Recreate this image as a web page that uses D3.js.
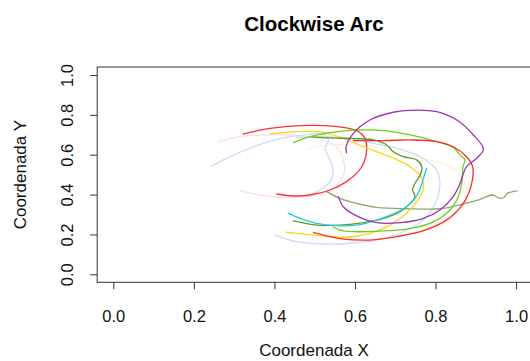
<!DOCTYPE html>
<html>
<head>
<meta charset="utf-8">
<script src="https://cdn.jsdelivr.net/npm/d3@7"></script>
<style>
  body { margin: 0; background: #fff; }
  svg { display: block; font-family: "Liberation Sans", Arial, sans-serif; }
</style>
</head>
<body>
<div id="chart"></div>
<script>
// traced strokes, [x, y] in data units
var redA = [[0.323,0.704],[0.389,0.732],[0.464,0.746],[0.555,0.741],[0.604,0.721],[0.625,0.682],[0.629,0.624],[0.623,0.565],[0.608,0.515],[0.579,0.465],[0.538,0.423],[0.488,0.398],[0.447,0.393],[0.406,0.403]];
var redB = [[0.596,0.671],[0.671,0.671],[0.737,0.674],[0.803,0.666],[0.844,0.640],[0.877,0.590],[0.892,0.540],[0.890,0.457],[0.869,0.356],[0.828,0.273],[0.770,0.219],[0.704,0.189],[0.637,0.172],[0.571,0.177],[0.522,0.197],[0.497,0.209]];
var yellow = [[0.389,0.704],[0.455,0.716],[0.522,0.712],[0.571,0.682],[0.621,0.640],[0.687,0.590],[0.737,0.540],[0.766,0.482],[0.770,0.431],[0.757,0.373],[0.728,0.306],[0.687,0.247],[0.637,0.206],[0.579,0.186],[0.522,0.192],[0.472,0.202],[0.430,0.211]];
var blueA = [[0.244,0.543],[0.290,0.590],[0.348,0.640],[0.406,0.677],[0.455,0.694],[0.522,0.704],[0.534,0.674],[0.526,0.632],[0.538,0.574],[0.546,0.523],[0.538,0.465],[0.513,0.423],[0.480,0.390]];
var blueB = [[0.455,0.687],[0.522,0.691],[0.588,0.682],[0.646,0.657],[0.704,0.632],[0.762,0.590],[0.803,0.523],[0.811,0.457],[0.803,0.373],[0.770,0.273],[0.712,0.206],[0.654,0.172],[0.588,0.156],[0.522,0.152],[0.455,0.164],[0.401,0.197]];
var pink = [[0.261,0.666],[0.315,0.691],[0.373,0.699],[0.439,0.699],[0.505,0.682],[0.555,0.640],[0.571,0.574],[0.573,0.507],[0.563,0.465],[0.538,0.423],[0.505,0.398],[0.464,0.386],[0.422,0.385],[0.364,0.398],[0.315,0.420]];
var peach = [[0.480,0.627],[0.538,0.649],[0.604,0.649],[0.687,0.624],[0.770,0.582],[0.836,0.540],[0.869,0.473],[0.876,0.390],[0.861,0.323],[0.828,0.264],[0.770,0.222],[0.704,0.197]];
var green = [[0.447,0.661],[0.488,0.691],[0.538,0.711],[0.604,0.724],[0.671,0.721],[0.737,0.699],[0.803,0.666],[0.844,0.637],[0.861,0.599],[0.873,0.574],[0.868,0.540],[0.865,0.457],[0.853,0.373],[0.828,0.306],[0.786,0.256],[0.728,0.227],[0.662,0.217],[0.596,0.214],[0.563,0.222],[0.546,0.239]];
var purple = [[0.579,0.610],[0.578,0.640],[0.596,0.707],[0.637,0.774],[0.695,0.813],[0.753,0.824],[0.803,0.816],[0.853,0.774],[0.894,0.699],[0.919,0.627],[0.902,0.582],[0.877,0.540],[0.861,0.457],[0.844,0.390],[0.811,0.323],[0.770,0.281],[0.712,0.259],[0.654,0.259],[0.604,0.293],[0.571,0.339],[0.559,0.390]];
var olive = [[0.488,0.691],[0.538,0.684],[0.604,0.681],[0.646,0.674],[0.679,0.649],[0.695,0.615],[0.720,0.590],[0.753,0.574],[0.766,0.540],[0.762,0.498],[0.749,0.457],[0.743,0.423],[0.749,0.390],[0.737,0.356],[0.712,0.314],[0.671,0.281],[0.621,0.259],[0.563,0.247],[0.505,0.247],[0.447,0.268]];
var sage = [[0.530,0.415],[0.563,0.381],[0.604,0.356],[0.654,0.336],[0.728,0.329],[0.811,0.329],[0.869,0.353],[0.911,0.376],[0.940,0.398],[0.948,0.393],[0.960,0.381],[0.969,0.384],[0.978,0.406],[0.989,0.414],[1.002,0.419]];
var cyan = [[0.778,0.532],[0.770,0.482],[0.762,0.431],[0.749,0.381],[0.728,0.339],[0.695,0.303],[0.654,0.273],[0.604,0.247],[0.555,0.244],[0.505,0.256],[0.464,0.281],[0.435,0.306]];

// drawing order, back to front
var strokes = [peach, pink, blueA, blueB, sage, redA, yellow, olive, cyan, green, redB, purple];
var strokeColors = ['#fff0dc', '#ffdfe6', '#c8dcf6', '#c8dcf6', '#8ea670', '#ff3030', '#ffd21a',
                    '#5f9a2a', '#22cdd6', '#6ccf1e', '#ff2a2a', '#9a34b4'];
var tickValues = [0, 0.2, 0.4, 0.6, 0.8, 1.0];

var width = 530, height = 361;
var svg = d3.select('#chart').append('svg')
  .attr('width', width)
  .attr('height', height);

// R pads the range by 4% on each side
var x = d3.scaleLinear().domain([-0.04, 1.04]).range([97.2, 532.2]);
var y = d3.scaleLinear().domain([-0.04, 1.04]).range([282.3, 67]);

var line = d3.line()
  .x(function(d) { return x(d[0]); })
  .y(function(d) { return y(d[1]); })
  .curve(d3.curveCatmullRom.alpha(0.5));

svg.append('g').selectAll('path')
  .data(strokes)
  .enter()
  .append('path')
  .attr('d', line)
  .attr('fill', 'none')
  .attr('stroke', function(d, i) { return strokeColors[i]; })
  .attr('stroke-width', 1.3)
  .attr('stroke-linejoin', 'round')
  .attr('stroke-linecap', 'round');

// plot box
svg.append('rect')
  .attr('x', x(-0.04))
  .attr('y', y(1.04))
  .attr('width', x(1.04) - x(-0.04))
  .attr('height', y(-0.04) - y(1.04))
  .attr('fill', 'none')
  .attr('stroke', '#333')
  .attr('stroke-width', 1);

var fmt = d3.format('.1f');

// axes, the domain line is hidden as the box already draws it
var xAxis = d3.axisBottom(x).tickValues(tickValues).tickFormat(fmt).tickSize(7).tickPadding(0);
var gx = svg.append('g').attr('transform', 'translate(0,' + y(-0.04) + ')').call(xAxis);
gx.select('.domain').remove();
gx.selectAll('line').attr('stroke', '#333');
gx.selectAll('text')
  .attr('y', 40).attr('dy', null)
  .attr('fill', '#111')
  .style('font-size', '16.5px')
  .style('font-family', '"Liberation Sans", Arial, sans-serif');

var yAxis = d3.axisLeft(y).tickValues(tickValues).tickFormat(fmt).tickSize(7);
var gy = svg.append('g').attr('transform', 'translate(' + x(-0.04) + ',0)').call(yAxis);
gy.select('.domain').remove();
gy.selectAll('line').attr('stroke', '#333');
gy.selectAll('text')
  .attr('x', null).attr('dy', null)
  .attr('transform', 'translate(-24,0) rotate(-90)')
  .attr('text-anchor', 'middle')
  .attr('y', 0)
  .attr('fill', '#111')
  .style('font-size', '16.5px')
  .style('font-family', '"Liberation Sans", Arial, sans-serif');

// titles
svg.append('text')
  .attr('x', 314).attr('y', 31)
  .attr('text-anchor', 'middle')
  .style('font-size', '20.5px')
  .style('font-weight', 'bold')
  .text('Clockwise Arc');

svg.append('text')
  .attr('x', 314).attr('y', 356)
  .attr('text-anchor', 'middle')
  .style('font-size', '17px')
  .attr('fill', '#111')
  .text('Coordenada X');

svg.append('text')
  .attr('transform', 'translate(26,' + ((y(1.04) + y(-0.04)) / 2) + ') rotate(-90)')
  .attr('text-anchor', 'middle')
  .style('font-size', '17px')
  .attr('fill', '#111')
  .text('Coordenada Y');
</script>
</body>
</html>
